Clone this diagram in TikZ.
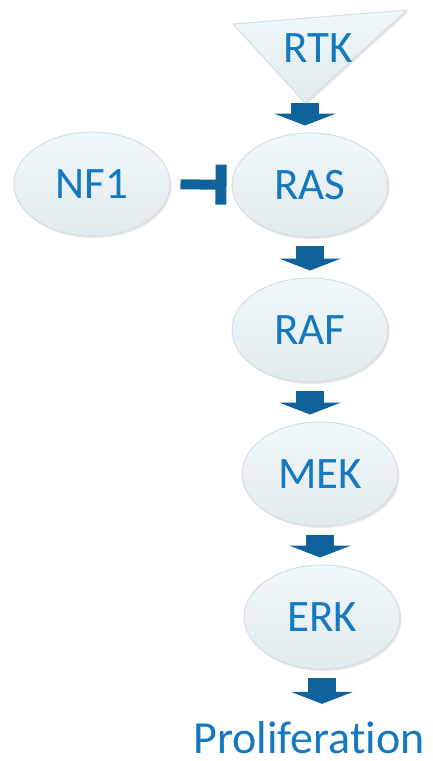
\documentclass[tikz,border=0pt]{standalone}
\usepackage{fontspec}
\setmainfont{Carlito}[Ligatures=NoCommon]
\usetikzlibrary{arrows.meta,shapes.geometric,shadows}

\definecolor{labelblue}{HTML}{1479C0}
\definecolor{arrowblue}{HTML}{10639A}
\definecolor{bubbletop}{HTML}{F1F8FC}
\definecolor{bubblebottom}{HTML}{E2EAEE}
\definecolor{bubbleline}{HTML}{D6DEE3}

\begin{document}
\begin{tikzpicture}[x=1pt,y=-1pt,
    bubble/.style={ellipse, draw=bubbleline, line width=1pt, top color=bubbletop, bottom color=bubblebottom,
        minimum width=156pt, minimum height=104pt, inner sep=0pt, text=labelblue, font=\fontsize{45}{50}\selectfont,
        drop shadow={shadow xshift=1.5pt, shadow yshift=-2pt, opacity=0.2}},
    label/.style={text=labelblue, inner sep=1pt, font=\fontsize{45}{50}\selectfont},
    flow/.style={arrowblue, line width=28pt, -{Triangle[length=12pt,width=62pt,line width=0pt]}, shorten <=8pt, shorten >=7pt},
    inhib/.style={arrowblue, line width=10pt, -{Bar[width=40pt,line width=11pt]}, shorten <=10pt, shorten >=5pt}]
        \useasboundingbox (0,0) rectangle (432,761);

        \coordinate (rtk left) at (233,24);
        \coordinate (rtk right) at (407,10);
        \coordinate (rtk tip) at (305,103);
        \draw[draw=bubbleline, line width=1pt, top color=bubbletop, bottom color=bubblebottom,
            drop shadow={shadow xshift=1.5pt, shadow yshift=-2pt, opacity=0.2}] (rtk left) -- (rtk right) -- (rtk tip) -- cycle;
        \node[label] (rtk) at (318,48) {RTK};

        \node[bubble] (nf1) at (92,184) {NF1};
        \node[bubble] (ras) at (310,185) {RAS};
        \node[bubble] (raf) at (310,330) {RAF};
        \node[bubble] (mek) at (320,474) {MEK};
        \node[bubble] (erk) at (322,617) {ERK};
        \node[label, anchor=base, font=\fontsize{46}{50}\selectfont] (prolif) at (309,753) {Proliferation};

        \draw[flow, shorten <=0pt] (rtk tip) -- (rtk tip |- ras.north);
        \draw[inhib] (nf1) -- (ras);
        \draw[flow] (ras.south) -- (raf.north);
        \draw[flow] (raf.south) -- (raf.south |- mek.north);
        \draw[flow] (mek.south) -- (mek.south |- erk.north);
        \draw[flow, shorten >=16pt] (erk.south) -- (erk.south |- prolif.north);

    \end{tikzpicture}
\end{document}
